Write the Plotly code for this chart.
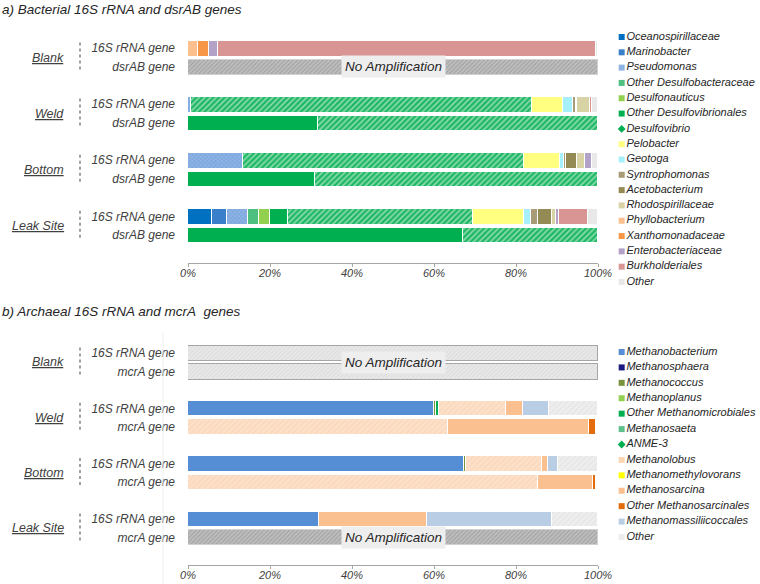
import plotly.graph_objects as go

# ---------------- data ----------------
sites = ["Blank", "Weld", "Bottom", "Leak Site"]
bac_genes = ["16S rRNA gene", "dsrAB gene"]
arc_genes = ["16S rRNA gene", "mcrA gene"]
pct_ticks = [0, 20, 40, 60, 80, 100]
pct_labels = ["0%", "20%", "40%", "60%", "80%", "100%"]

bac_taxa = ["Oceanospirillaceae", "Marinobacter", "Pseudomonas", "Other Desulfobacteraceae",
            "Desulfonauticus", "Other Desulfovibrionales", "Desulfovibrio", "Pelobacter",
            "Geotoga", "Syntrophomonas", "Acetobacterium", "Rhodospirillaceae",
            "Phyllobacterium", "Xanthomonadaceae", "Enterobacteriaceae", "Burkholderiales", "Other"]
bac_colors = ["#0070c0", "#3a7fc9", "#8db4e2", "#4dbf7f", "#92d050", "#00b050", "#00b050",
              "#ffff80", "#a5f0fa", "#a89b78", "#948a54", "#d8d3a5", "#fbc08e", "#f79646",
              "#b3a2c7", "#d99594", "#e8e8e8"]

# values (%) per bar, in bac_taxa order; None = no amplification
blank_16s   = [0, 0, 0, 0, 0, 0, 0, 0, 0, 0, 0, 0, 2.4, 2.6, 2.2, 92.4, 0.4]
blank_dsrab = None
weld_16s    = [0, 0, 0.8, 0, 0, 0, 83.0, 7.6, 2.6, 0.6, 0.3, 3.2, 0, 0, 0, 0.4, 1.5]
weld_dsrab  = [0, 0, 0, 0, 0, 31.8, 68.2, 0, 0, 0, 0, 0, 0, 0, 0, 0, 0]
bottom_16s  = [0, 0, 13.3, 0, 0, 0, 68.7, 8.7, 1.0, 0.5, 2.6, 2.1, 0, 0, 1.6, 0, 1.5]
bottom_dsrab = [0, 0, 0, 0, 0, 31.0, 69.0, 0, 0, 0, 0, 0, 0, 0, 0, 0, 0]
leak_16s    = [5.9, 3.5, 5.3, 2.6, 2.7, 4.3, 45.3, 12.4, 1.6, 1.7, 3.4, 1.0, 0, 0, 0.9, 6.9, 2.5]
leak_dsrab  = [0, 0, 0, 0, 0, 67.0, 33.0, 0, 0, 0, 0, 0, 0, 0, 0, 0, 0]

arc_taxa = ["Methanobacterium", "Methanosphaera", "Methanococcus", "Methanoplanus",
            "Other Methanomicrobiales", "Methanosaeta", "ANME-3", "Methanolobus",
            "Methanomethylovorans", "Methanosarcina", "Other Methanosarcinales",
            "Methanomassiliicoccales", "Other"]
arc_colors = ["#558ed5", "#1a1a80", "#77933c", "#92d050", "#00b050", "#5fc08a", "#00b050",
              "#fcd5b5", "#ffff00", "#fac090", "#e46c0a", "#b9cde5", "#ececec"]

blank_16s_arc  = None
blank_mcra     = None
weld_16s_arc   = [60.0, 0, 0.5, 0, 0.8, 0, 0, 16.3, 0, 4.0, 0, 6.5, 11.9]
weld_mcra      = [0, 0, 0, 0, 0, 0, 0, 63.3, 0, 34.5, 1.7, 0, 0]
bottom_16s_arc = [67.3, 0, 0.5, 0, 0, 0, 0, 18.5, 0, 1.6, 0, 2.4, 9.7]
bottom_mcra    = [0, 0, 0, 0, 0, 0, 0, 85.4, 0, 13.5, 0.6, 0, 0]
leak_16s_arc   = [32.0, 0, 0, 0, 0, 0, 0, 0, 0, 26.2, 0, 30.5, 11.3]
leak_mcra      = None

bac_rows = [blank_16s, blank_dsrab, weld_16s, weld_dsrab,
            bottom_16s, bottom_dsrab, leak_16s, leak_dsrab]
arc_rows = [blank_16s_arc, blank_mcra, weld_16s_arc, weld_mcra,
            bottom_16s_arc, bottom_mcra, leak_16s_arc, leak_mcra]

# ---------------- styling ----------------
FONT = "Liberation Sans, Arial, sans-serif"
TXT = "#404040"
W, H = 760, 584
row_pos = [g * 3 + r for g in range(len(sites)) for r in range(2)]
row_site = [s for s in sites for _ in range(2)]

# overlay patterns: marker colour is the base, fgcolor the stripes
patterns = {
    "Desulfovibrio": dict(base="#1fb864", shape="/", fgcolor="#ffffff", size=4, solidity=0.38,
                          fillmode="overlay"),
    "Pseudomonas": dict(base="#7ea8df", shape="x", fgcolor="#c9dbf2", size=3, solidity=0.3,
                        fillmode="overlay"),
    "ANME-3": dict(base="#1fb864", shape="/", fgcolor="#ffffff", size=4, solidity=0.38,
                   fillmode="overlay"),
    "Methanolobus": dict(base="#fde0c9", shape="/", fgcolor="#f7cba8", size=4, solidity=0.3,
                         fillmode="overlay"),
    "Other_arc": dict(base="#eeeeee", shape="/", fgcolor="#dadada", size=4, solidity=0.3,
                      fillmode="overlay"),
}
noamp_dark = dict(base="#c0c0c0", shape="/", fgcolor="#8a8a8a", size=3, solidity=0.45,
                  fillmode="overlay")
noamp_light = dict(base="#e9e9e9", shape="/", fgcolor="#d0d0d0", size=3, solidity=0.4,
                   fillmode="overlay")

fig = go.Figure()
BW = 0.84


def pat_marker(p, line):
    q = {k: v for k, v in p.items() if k != "base"}
    return dict(color=p["base"], pattern=q, line=line)


def add_panel(taxa, colors, rows, xa, ya, other_key):
    for i, (taxon, col) in enumerate(zip(taxa, colors)):
        xs = [(row[i] if row[i] > 0 else None) if row is not None else None for row in rows]
        key = taxon if taxon in patterns else (other_key if taxon == "Other" else None)
        line = dict(color="white", width=1)
        marker = pat_marker(patterns[key], line) if key in patterns else dict(color=col, line=line)
        fig.add_trace(go.Bar(orientation="h", x=xs, y=row_pos, width=BW, name=taxon,
                             marker=marker, xaxis=xa, yaxis=ya, showlegend=False,
                             hovertemplate=taxon + ": %{x}%<extra></extra>"))
    # no amplification bars
    for light in (False, True):
        xs = []
        for row, s in zip(rows, row_site):
            is_light = (s == "Blank" and other_key == "Other_arc")
            xs.append(100 if (row is None and is_light == light) else None)
        if all(v is None for v in xs):
            continue
        p = noamp_light if light else noamp_dark
        line = dict(color="#a6a6a6" if light else "#d0d0d0", width=1)
        fig.add_trace(go.Bar(orientation="h", x=xs, y=row_pos, width=BW, name="No Amplification",
                             marker=pat_marker(p, line), xaxis=xa, yaxis=ya, showlegend=False,
                             hovertemplate="No Amplification<extra></extra>"))
    # No Amplification labels
    for g, s in enumerate(sites):
        ys = [row_pos[k] for k in range(len(rows)) if row_site[k] == s and rows[k] is None]
        if ys:
            fig.add_annotation(x=50, y=sum(ys) / len(ys), xref=xa, yref=ya,
                               text="<i>No Amplification</i>", showarrow=False,
                               font=dict(family=FONT, size=13.5, color="#262626"),
                               bgcolor="#eeeeee", borderpad=3)


add_panel(bac_taxa, bac_colors, bac_rows, "x", "y", None)
add_panel(arc_taxa, arc_colors, arc_rows, "x2", "y2", "Other_arc")

# manual legends (compact item spacing)
leg_symbol = {"Desulfovibrio": "diamond", "ANME-3": "diamond"}
fig.add_trace(go.Scatter(x=[0] * len(bac_taxa), y=list(range(len(bac_taxa))), mode="markers+text",
                         text=bac_taxa, textposition="middle right", cliponaxis=False,
                         marker=dict(symbol=[leg_symbol.get(t, "square") for t in bac_taxa],
                                     size=6, color=bac_colors, line=dict(width=0)),
                         textfont=dict(family=FONT, size=11, color="#262626", style="italic"),
                         xaxis="x3", yaxis="y3", showlegend=False, hoverinfo="skip"))
fig.add_trace(go.Scatter(x=[0] * len(arc_taxa), y=list(range(len(arc_taxa))), mode="markers+text",
                         text=arc_taxa, textposition="middle right", cliponaxis=False,
                         marker=dict(symbol=[leg_symbol.get(t, "square") for t in arc_taxa],
                                     size=6, color=arc_colors, line=dict(width=0)),
                         textfont=dict(family=FONT, size=11, color="#262626", style="italic"),
                         xaxis="x4", yaxis="y4", showlegend=False, hoverinfo="skip"))

# group labels and dotted separators
for ya in ("y", "y2"):
    for g, s in enumerate(sites):
        fig.add_annotation(x=66 / W, y=g * 3 + 0.5, xref="paper", yref=ya, xanchor="right",
                           text="<i><u>%s</u></i>" % s, showarrow=False,
                           font=dict(family=FONT, size=12.5, color=TXT))
        fig.add_shape(type="line", xref="paper", yref=ya, x0=80 / W, x1=80 / W,
                      y0=g * 3 - 0.3, y1=g * 3 + 1.3,
                      line=dict(color="#808080", width=1.5, dash="dot"))

# panel titles
fig.add_annotation(x=0, y=1 - 9 / H, xref="paper", yref="paper", xanchor="left", yanchor="middle",
                   text="<i>a) Bacterial 16S rRNA and dsrAB genes</i>", showarrow=False,
                   font=dict(family=FONT, size=13.5, color="#262626"))
fig.add_annotation(x=0, y=1 - 311 / H, xref="paper", yref="paper", xanchor="left", yanchor="middle",
                   text="<i>b) Archaeal 16S rRNA and mcrA\u00a0 genes</i>", showarrow=False,
                   font=dict(family=FONT, size=13.5, color="#262626"))
fig.add_shape(type="line", xref="paper", yref="paper", x0=163 / W, x1=163 / W,
              y0=0, y1=1 - 332 / H, line=dict(color="#efefef", width=1))

xdom = [188 / W, 598 / W]
xax = dict(domain=xdom, range=[0, 100], tickvals=pct_ticks, ticktext=pct_labels, showgrid=False,
           zeroline=False, showline=True, linecolor="#a6a6a6", ticks="outside", ticklen=3,
           tickcolor="#a6a6a6", ticklabelstandoff=-3,
           tickfont=dict(family=FONT, size=11, color=TXT, style="italic"),
           fixedrange=True, automargin=False)
yax = dict(range=[11.5, -1.0], tickvals=row_pos, showgrid=False, zeroline=False, showline=False,
           ticks="", ticklabelstandoff=12, automargin=False,
           tickfont=dict(family=FONT, size=12, color=TXT, style="italic"), fixedrange=True)

fig.update_layout(
    width=W, height=H, autosize=False,
    margin=dict(l=0, r=0, t=0, b=0, pad=0, autoexpand=False),
    paper_bgcolor="white", plot_bgcolor="white", barmode="stack", bargap=0,
    showlegend=False, font=dict(family=FONT, color=TXT),
    xaxis=dict(xax, anchor="y"),
    yaxis=dict(yax, domain=[(H - 263) / H, (H - 29.5) / H], anchor="x",
               ticktext=[bac_genes[k % 2] for k in range(len(row_pos))]),
    xaxis2=dict(xax, anchor="y2"),
    yaxis2=dict(yax, domain=[(H - 565) / H, (H - 334.6) / H], anchor="x2",
                ticktext=[arc_genes[k % 2] for k in range(len(row_pos))]),
    xaxis3=dict(domain=[608 / W, 1], range=[-0.09, 0.91], visible=False, fixedrange=True,
                anchor="y3", automargin=False),
    yaxis3=dict(domain=[(H - 289.65) / H, (H - 29.35) / H], range=[16.5, -0.5], visible=False,
                fixedrange=True, anchor="x3", automargin=False),
    xaxis4=dict(domain=[608 / W, 1], range=[-0.09, 0.91], visible=False, fixedrange=True,
                anchor="y4", automargin=False),
    yaxis4=dict(domain=[(H - 544.7) / H, (H - 344.3) / H], range=[12.5, -0.5], visible=False,
                fixedrange=True, anchor="x4", automargin=False),
)

fig.write_html("out.html", config={"displayModeBar": False, "responsive": False},
               post_script="document.body.style.margin='0';document.body.style.overflow='hidden';")
